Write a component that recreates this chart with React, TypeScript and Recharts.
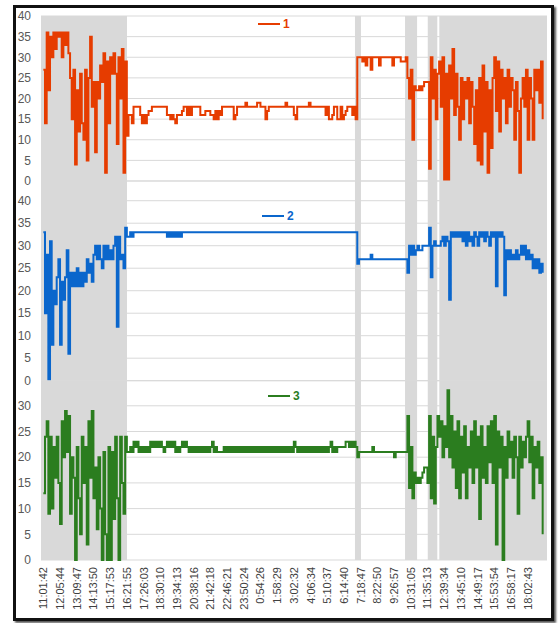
import { CartesianGrid, Line, LineChart, ReferenceArea, XAxis, YAxis } from "recharts";

// tick labels on the shared time axis, one every 10 samples
const timeLabels = [
  "11:01:42", "12:05:44", "13:09:47", "14:13:50", "15:17:53", "16:21:55", "17:26:03", "18:30:10",
  "19:34:13", "20:38:16", "21:42:18", "22:46:21", "23:50:24", "0:54:26", "1:58:29", "3:02:32",
  "4:06:34", "5:10:37", "6:14:40", "7:18:47", "8:22:50", "9:26:57", "10:31:05", "11:35:13",
  "12:39:34", "13:45:10", "14:49:17", "15:53:54", "16:58:17", "18:02:43",
];

const seriesNames = ["1", "2", "3"];

// shaded sample ranges [from, to]
const grayBands = [
  [-1.4, 50.1],
  [186.6, 190.2],
  [216.6, 223.8],
  [230.2, 235.9],
  [237.1, 301.6],
];

const series1 = [
  27, 14, 36, 22, 35, 30, 36, 32, 36, 35,
  36, 30, 36, 33, 36, 31, 25, 15, 27, 4,
  22, 12, 26, 14, 10, 27, 5, 25, 35, 18,
  24, 7, 24, 20, 28, 24, 31, 2, 29, 14,
  30, 26, 31, 26, 9, 30, 20, 32, 2, 29,
  11, 16, 16, 14, 18, 18, 18, 18, 16, 14,
  16, 14, 16, 17, 17, 18, 18, 18, 18, 18,
  18, 18, 18, 18, 16, 16, 15, 16, 15, 14,
  16, 16, 16, 17, 18, 18, 16, 18, 16, 18,
  18, 18, 18, 18, 16, 16, 16, 17, 17, 17,
  16, 16, 15, 17, 15, 17, 16, 18, 18, 18,
  18, 18, 18, 18, 15, 16, 18, 18, 18, 18,
  18, 19, 18, 18, 18, 18, 18, 18, 19, 19,
  18, 18, 18, 15, 17, 18, 18, 18, 18, 18,
  18, 18, 18, 18, 18, 19, 18, 18, 18, 18,
  16, 15, 18, 18, 18, 18, 18, 18, 18, 19,
  18, 18, 18, 18, 18, 18, 18, 18, 18, 16,
  18, 15, 15, 16, 18, 18, 15, 15, 18, 15,
  16, 17, 18, 18, 18, 16, 18, 15, 30, 30,
  30, 29, 30, 28, 30, 30, 27, 30, 30, 30,
  30, 28, 30, 30, 30, 30, 30, 30, 30, 28,
  30, 30, 30, 30, 29, 29, 29, 30, 25, 20,
  27, 10, 23, 22, 22, 23, 22, 23, 24, 24,
  24, 3, 30, 20, 27, 15, 26, 29, 18, 30,
  0, 26, 0, 28, 20, 32, 16, 26, 18, 10,
  25, 15, 24, 20, 25, 14, 24, 18, 9, 22,
  5, 25, 4, 28, 12, 24, 2, 22, 8, 25,
  30, 17, 29, 12, 27, 20, 25, 14, 27, 18,
  25, 22, 10, 24, 17, 2, 20, 25, 18, 27,
  10, 25, 20, 10, 27, 22, 27, 19, 29, 15,
];

const series2 = [
  33, 15, 28, 0, 31, 8, 20, 17, 23, 27,
  8, 22, 18, 23, 29, 6, 24, 21, 24, 21,
  25, 21, 24, 21, 24, 22, 27, 24, 26, 22,
  28, 30, 27, 30, 27, 25, 30, 27, 30, 27,
  29, 27, 30, 32, 12, 32, 27, 28, 25, 34,
  32, 32, 33, 32, 33, 33, 33, 33, 33, 33,
  33, 33, 33, 33, 33, 33, 33, 33, 33, 33,
  33, 33, 33, 33, 32, 33, 32, 33, 32, 33,
  32, 33, 32, 33, 33, 33, 33, 33, 33, 33,
  33, 33, 33, 33, 33, 33, 33, 33, 33, 33,
  33, 33, 33, 33, 33, 33, 33, 33, 33, 33,
  33, 33, 33, 33, 33, 33, 33, 33, 33, 33,
  33, 33, 33, 33, 33, 33, 33, 33, 33, 33,
  33, 33, 33, 33, 33, 33, 33, 33, 33, 33,
  33, 33, 33, 33, 33, 33, 33, 33, 33, 33,
  33, 33, 33, 33, 33, 33, 33, 33, 33, 33,
  33, 33, 33, 33, 33, 33, 33, 33, 33, 33,
  33, 33, 33, 33, 33, 33, 33, 33, 33, 33,
  33, 33, 33, 33, 33, 33, 33, 33, 26, 27,
  27, 27, 27, 27, 27, 27, 28, 27, 27, 27,
  27, 27, 27, 27, 27, 27, 27, 27, 27, 27,
  27, 27, 27, 27, 27, 27, 27, 27, 24, 30,
  28, 30, 28, 29, 30, 29, 29, 30, 30, 30,
  30, 34, 23, 30, 31, 30, 30, 30, 31, 32,
  30, 32, 31, 18, 33, 32, 33, 32, 33, 32,
  33, 31, 33, 30, 33, 31, 32, 30, 33, 32,
  30, 33, 32, 33, 31, 33, 32, 30, 33, 32,
  33, 21, 33, 32, 33, 32, 19, 29, 27, 29,
  27, 28, 27, 29, 27, 28, 30, 28, 30, 27,
  29, 27, 28, 25, 27, 25, 27, 24, 26, 24,
];

const series3 = [
  13, 24, 27, 9, 24, 10, 22, 16, 24, 15,
  7, 27, 20, 29, 21, 28, 9, 20, 16, 0,
  22, 12, 5, 24, 15, 22, 3, 27, 16, 29,
  12, 18, 6, 20, 10, 0, 21, 5, 0, 22,
  0, 21, 8, 24, 12, 0, 24, 15, 9, 24,
  21, 21, 22, 21, 23, 22, 23, 21, 22, 21,
  22, 21, 22, 21, 23, 22, 23, 22, 23, 22,
  23, 22, 21, 22, 23, 22, 23, 22, 23, 21,
  22, 21, 22, 23, 22, 23, 22, 21, 22, 21,
  22, 21, 22, 21, 22, 21, 22, 21, 22, 21,
  22, 23, 21, 22, 21, 21, 21, 21, 22, 21,
  22, 21, 22, 21, 22, 21, 22, 21, 22, 21,
  22, 21, 22, 21, 22, 21, 22, 21, 22, 21,
  22, 21, 22, 21, 22, 21, 22, 21, 22, 21,
  22, 21, 22, 21, 22, 21, 22, 21, 22, 21,
  23, 22, 21, 22, 21, 22, 21, 22, 21, 22,
  21, 22, 21, 22, 21, 22, 21, 22, 21, 22,
  21, 22, 23, 21, 22, 21, 22, 22, 22, 22,
  22, 23, 23, 22, 23, 22, 23, 22, 20, 21,
  21, 21, 21, 21, 21, 21, 21, 22, 21, 21,
  21, 21, 21, 21, 21, 21, 21, 21, 21, 21,
  20, 21, 21, 21, 21, 21, 21, 21, 28, 14,
  22, 12, 17, 15, 16, 15, 16, 17, 18, 18,
  15, 28, 12, 24, 11, 22, 28, 24, 27, 20,
  26, 22, 33, 20, 28, 18, 25, 14, 27, 12,
  24, 17, 26, 12, 22, 18, 25, 15, 27, 18,
  24, 8, 26, 16, 22, 15, 26, 19, 27, 15,
  28, 3, 25, 18, 24, 0, 22, 16, 25, 20,
  23, 16, 24, 20, 9, 24, 18, 23, 20, 24,
  27, 19, 24, 12, 22, 18, 23, 15, 20, 5,
];

const rows = series1.map((v, i) => ({ i, s1: v, s2: series2[i], s3: series3[i] }));

const xDomain = [-1.4, 301.6];
const xTicks = timeLabels.map((_, k) => k * 10);
const FONT = "'Liberation Sans', Arial, sans-serif";
const GRAY = "#d9d9d9";

function TimeTick(props: any) {
  const { x, y, payload } = props;
  return (
    <text
      x={x}
      y={y}
      transform={`rotate(-90 ${x} ${y})`}
      textAnchor="end"
      dominantBaseline="central"
      fontSize={11}
      fontFamily={FONT}
      fill="#404040"
    >
      {timeLabels[Math.round(payload.value / 10)]}
    </text>
  );
}

interface PanelProps {
  top: number;
  height: number;
  mTop: number;
  mBottom: number;
  yMax: number;
  yTicks: number[];
  dataKey: string;
  color: string;
  showX?: boolean;
}

function Panel({ top, height, mTop, mBottom, yMax, yTicks, dataKey, color, showX }: PanelProps) {
  return (
    <div style={{ position: "absolute", left: 0, top }}>
      <LineChart width={558} height={height} data={rows} margin={{ top: mTop, right: 11, bottom: mBottom, left: 0 }}>
        <CartesianGrid vertical={false} stroke={GRAY} />
        {grayBands.map(([a, b]) => (
          <ReferenceArea key={a} x1={a} x2={b} fill={GRAY} fillOpacity={1} stroke="none" ifOverflow="hidden" />
        ))}
        <XAxis
          type="number"
          dataKey="i"
          domain={xDomain}
          ticks={xTicks}
          interval={0}
          hide={!showX}
          height={55}
          axisLine={false}
          tickLine={false}
          tickSize={0}
          tickMargin={7}
          tick={<TimeTick />}
        />
        <YAxis
          domain={[0, yMax]}
          ticks={yTicks}
          interval={0}
          width={41}
          axisLine={false}
          tickLine={false}
          tickSize={0}
          tickMargin={10}
          tick={{ fill: "#595959", fontSize: 12, fontFamily: FONT }}
        />
        <Line dataKey={dataKey} type="stepAfter" stroke={color} strokeWidth={2} dot={false} isAnimationActive={false} />
      </LineChart>
    </div>
  );
}

function Key({ left, top, color, label }: { left: number; top: number; color: string; label: string }) {
  return (
    <div style={{ position: "absolute", left, top, display: "flex", alignItems: "center", height: 14 }}>
      <span style={{ display: "inline-block", width: 22, height: 2, background: color }} />
      <span style={{ marginLeft: 3, color, fontWeight: "bold", fontSize: 12, lineHeight: "14px", fontFamily: FONT }}>
        {label}
      </span>
    </div>
  );
}

export default function App() {
  return (
    <div style={{ position: "absolute", left: 0, top: 0, width: 558, height: 623, background: "#fff" }}>
      <div
        style={{
          position: "absolute",
          left: 13,
          top: 5,
          width: 535,
          height: 610,
          border: "3px solid #111",
          boxShadow: "2px 2px 2px #555",
          background: "#fff",
        }}
      />
      <Panel top={0} height={190} mTop={16} mBottom={9} yMax={40} yTicks={[0, 5, 10, 15, 20, 25, 30, 35, 40]} dataKey="s1" color="#e63c00" />
      <Panel top={172} height={218} mTop={9} mBottom={9.3} yMax={44.38} yTicks={[0, 5, 10, 15, 20, 25, 30, 35, 40]} dataKey="s2" color="#0a66cc" />
      <Panel top={372} height={251} mTop={8.7} mBottom={8} yMax={34.88} yTicks={[0, 5, 10, 15, 20, 25, 30]} dataKey="s3" color="#2b7d1f" showX />
      <Key left={258} top={17} color="#e63c00" label={seriesNames[0]} />
      <Key left={262} top={209} color="#0a66cc" label={seriesNames[1]} />
      <Key left={268} top={389} color="#2b7d1f" label={seriesNames[2]} />
    </div>
  );
}
